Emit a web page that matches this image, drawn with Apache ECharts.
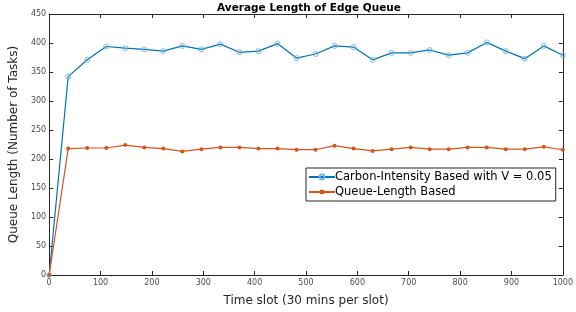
<!DOCTYPE html>
<html>
<head>
<meta charset="utf-8">
<script src="https://cdn.jsdelivr.net/npm/echarts@6/dist/echarts.min.js"></script>
<style>
html,body{margin:0;padding:0;background:#fff;}
#main{width:576px;height:312px;}
</style>
</head>
<body>
<div id="main"></div>
<script>
// time slots: 28 samples from 0 to 1000
var slots = [];
for (var i = 0; i < 28; i++) { slots.push(Math.round(i * 1000 / 27 * 100) / 100); }

var carbonVals = [0, 342, 371, 394, 391, 389, 386, 395, 389, 398, 384, 386, 399, 374, 381, 395,
                  393, 371, 383, 383, 388, 379, 383, 401, 386, 373, 395, 379];
var queueVals = [0, 218, 219, 219, 224, 220, 218, 213, 217, 220, 220, 218, 218, 216, 216, 223,
                 218, 214, 217, 220, 217, 217, 220, 220, 217, 217, 221, 216];

var seriesNames = ['Carbon-Intensity Based with V = 0.05', 'Queue-Length Based'];

function pairs(xs, ys) {
    var out = [];
    for (var k = 0; k < xs.length; k++) { out.push([xs[k], ys[k]]); }
    return out;
}

var dom = document.getElementById("main");
var myChart = echarts.init(dom);
var font = 'DejaVu Sans';
var option = null;

var axisLineStyle = { color: '#262626', width: 1 };
var plain = function (v) { return String(v); };

option = {
    animation: false,
    title: {
        text: 'Average Length of Edge Queue',
        left: 304, textAlign: 'center',
        top: -2,
        textStyle: { fontFamily: font, fontSize: 10.5, fontWeight: 'bold', color: '#000' }
    },
    legend: {
        orient: 'vertical',
        left: 306, top: 168,
        data: seriesNames,
        itemWidth: 26, itemHeight: 6, itemGap: 3,
        padding: [3, 4, 3, 2],
        borderColor: '#262626', borderWidth: 1, borderRadius: 0,
        backgroundColor: '#fff',
        textStyle: { fontFamily: font, fontSize: 11.5, color: '#000', padding: [0, 0, 0, -5] }
    },
    grid: { left: 39, right: 6, top: 14, bottom: 32 },
    xAxis: [{
        type: 'value', min: 0, max: 1000, interval: 100,
        name: 'Time slot (30 mins per slot)', nameLocation: 'middle', nameGap: 20,
        nameTextStyle: { fontFamily: font, fontSize: 12, color: '#262626' },
        axisLine: { onZero: false, lineStyle: axisLineStyle },
        axisTick: { inside: true, length: 4, lineStyle: axisLineStyle },
        axisLabel: { fontFamily: font, fontSize: 8, color: '#4d4d4d', margin: 4, formatter: plain },
        splitLine: { show: false }
    }, {
        type: 'value', min: 0, max: 1000, interval: 100, position: 'top',
        axisLine: { show: true, onZero: false, lineStyle: axisLineStyle },
        axisTick: { show: true, inside: true, length: 4, lineStyle: axisLineStyle },
        axisLabel: { show: false },
        splitLine: { show: false }
    }],
    yAxis: [{
        type: 'value', min: 0, max: 450, interval: 50,
        name: 'Queue Length (Number of Tasks)', nameLocation: 'middle', nameGap: 15,
        nameTextStyle: { fontFamily: font, fontSize: 12, color: '#262626' },
        axisLine: { show: true, onZero: false, lineStyle: axisLineStyle },
        axisTick: { show: true, inside: true, length: 4, lineStyle: axisLineStyle },
        axisLabel: { fontFamily: font, fontSize: 8, color: '#4d4d4d', margin: 3 },
        splitLine: { show: false }
    }, {
        type: 'value', min: 0, max: 450, interval: 50, position: 'right',
        axisLine: { show: true, onZero: false, lineStyle: axisLineStyle },
        axisTick: { show: true, inside: true, length: 4, lineStyle: axisLineStyle },
        axisLabel: { show: false },
        splitLine: { show: false }
    }],
    series: [{
        name: seriesNames[0],
        type: 'line',
        data: pairs(slots, carbonVals),
        symbol: 'circle', symbolSize: 5,
        lineStyle: { color: '#0072BD', width: 1.2 },
        itemStyle: { color: 'rgba(255,255,255,0)', borderColor: '#6fb3e0', borderWidth: 0.9 },
        color: '#0072BD'
    }, {
        name: seriesNames[1],
        type: 'line',
        data: pairs(slots, queueVals),
        symbol: 'circle', symbolSize: 4,
        lineStyle: { color: '#D95319', width: 1.2 },
        itemStyle: { color: '#D95319' },
        color: '#D95319'
    }]
};

if (option && typeof option === "object") {
    myChart.setOption(option, true);
}
</script>
</body>
</html>
